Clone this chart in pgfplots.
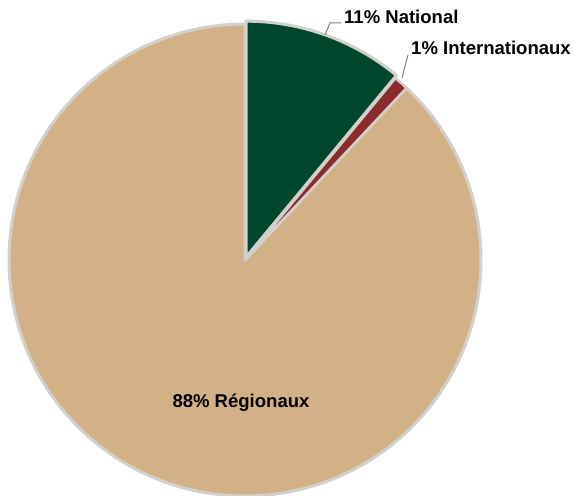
\documentclass[border=0pt]{standalone}
\usepackage{pgfplots}
\usepackage{pgfplotstable}
\pgfplotsset{compat=1.18}
\usepackage{fontspec}
\setmainfont{Liberation Sans}

\definecolor{natgreen}{HTML}{00472E}
\definecolor{intred}{HTML}{8B2B2B}
\definecolor{regtan}{HTML}{D2B187}
\definecolor{sliceedge}{HTML}{D3D0CB}

% shares in percent
\pgfplotstableread{
share name
11 National
1 Internationaux
88 Regionaux
}\piedata

\begin{document}
\begin{tikzpicture}
\useasboundingbox (0,0) rectangle (573bp,496bp);
% slice angles, clockwise from the top
\pgfplotstablegetelem{0}{share}\of\piedata \let\sA\pgfplotsretval
\pgfplotstablegetelem{1}{share}\of\piedata \let\sB\pgfplotsretval
\pgfplotstablegetelem{2}{share}\of\piedata \let\sC\pgfplotsretval
\pgfmathsetmacro\aA{90-3.6*\sA}
\pgfmathsetmacro\aB{\aA-3.6*\sB}
\pgfmathsetmacro\aC{\aB-3.6*\sC}
\pgfmathsetmacro\mA{90-1.8*\sA}
\def\R{236bp}
\begin{axis}[
    x=1bp, y=1bp,
    xmin=0, xmax=573, ymin=0, ymax=496,
    hide axis, clip=false,
    anchor=south west, at={(0,0)},
]
  % Regionaux
  \filldraw[fill=regtan, draw=sliceedge, line width=3bp, line join=round]
    (axis cs:245,236) -- +(\aB:\R) arc[start angle=\aB, end angle=\aC, radius=\R] -- cycle;
  % Internationaux
  \filldraw[fill=intred, draw=sliceedge, line width=2.5bp, line join=round]
    (axis cs:245,236) -- +(\aA:\R) arc[start angle=\aA, end angle=\aB, radius=\R] -- cycle;
  % National (pulled out a little)
  \filldraw[fill=natgreen, draw=sliceedge, line width=3bp, line join=round, shift={(\mA:3bp)}]
    (axis cs:245,236) -- +(90:\R) arc[start angle=90, end angle=\aA, radius=\R] -- cycle;

  % leader lines
  \draw[gray, line width=1bp] (axis cs:325,461) -- (axis cs:330,473) -- (axis cs:341,473);
  \draw[gray, line width=1bp] (axis cs:402,418) -- (axis cs:408,441);

  \node[anchor=west, font=\fontsize{18.6}{20}\selectfont\bfseries, inner sep=0pt]
    at (axis cs:344,479) {11\% National};
  \node[anchor=west, font=\fontsize{18.6}{20}\selectfont\bfseries, inner sep=0pt]
    at (axis cs:411,448) {1\% Internationaux};
  \node[font=\fontsize{18.6}{20}\selectfont\bfseries, inner sep=0pt]
    at (axis cs:241,93) {88\% Régionaux};
\end{axis}
\end{tikzpicture}
\end{document}
